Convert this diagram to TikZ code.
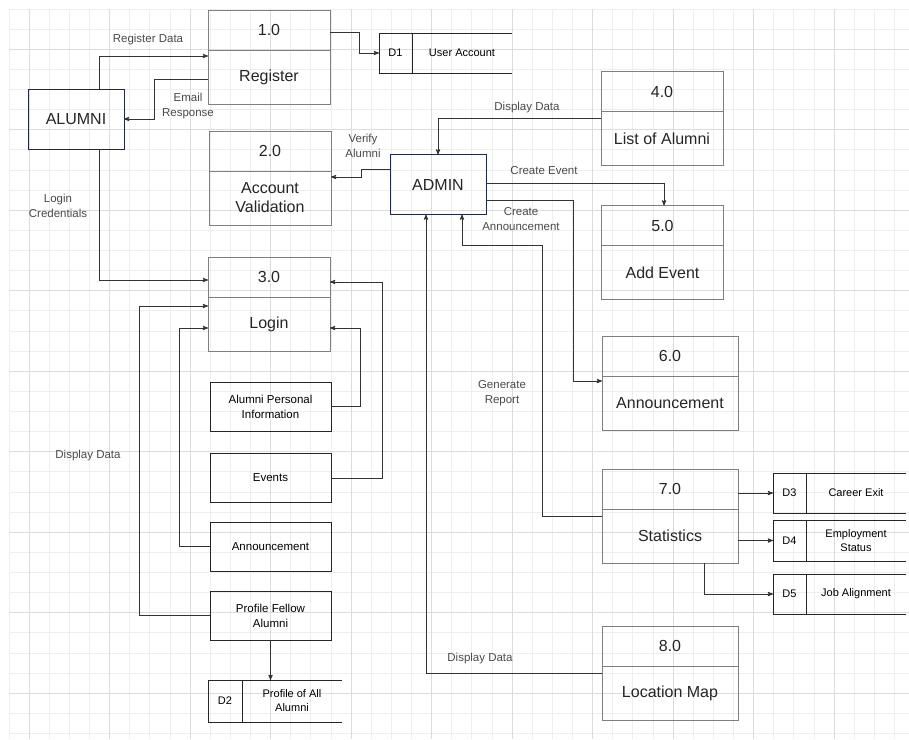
\documentclass[tikz,border=0pt]{standalone}
\usepackage{fontspec}
\setmainfont{Liberation Sans}
\usetikzlibrary{arrows,positioning}

\definecolor{gridminor}{HTML}{EEEEEE}
\definecolor{gridmajor}{HTML}{DCDCDC}
\definecolor{procgray}{HTML}{7F7F7F}
\definecolor{entnavy}{HTML}{1F2847}
\definecolor{flowgray}{HTML}{333333}
\definecolor{labelgray}{HTML}{4A4A4A}

\tikzset{
  numbox/.style={draw=procgray, line width=0.9pt, minimum width=122pt, minimum height=40pt,
    outer sep=0pt, inner sep=0pt, font=\fontsize{16}{19}\selectfont, text=black!85},
  namebox/.style={numbox, minimum height=54pt, align=center},
  wide/.style={minimum width=136pt},
  entity/.style={draw=entnavy, line width=0.9pt, minimum width=96pt, minimum height=60pt,
    outer sep=0pt, font=\fontsize{16}{19}\selectfont, text=black!85},
  infobox/.style={draw=black!85, line width=0.9pt, minimum width=121pt, minimum height=49pt,
    outer sep=0pt, align=center, font=\fontsize{11.5}{15}\selectfont},
  storeid/.style={draw=black!85, line width=0.9pt, minimum width=33pt, minimum height=40pt,
    outer sep=0pt, inner sep=0pt, font=\fontsize{11}{13}\selectfont},
  storetxt/.style={minimum width=100pt, minimum height=40pt, outer sep=0pt, inner sep=0pt,
    align=center, font=\fontsize{11}{14}\selectfont},
  storeline/.style={draw=black!85, line width=0.9pt},
  flowlbl/.style={text=labelgray, align=center, font=\fontsize{11.5}{15}\selectfont},
  flow/.style={->, draw=flowgray, line width=0.9pt},
}

\begin{document}
\begin{tikzpicture}[x=1pt, y=-1pt, >=stealth']
    % Background and grid
    \fill[white] (0,0) rectangle (909,739);
    \useasboundingbox (0,0) rectangle (909,739);
    \foreach \k in {0,...,44}
        \draw[gridminor, line width=0.8pt] (9+20.125*\k, 9) -- (9+20.125*\k, 739);
    \foreach \k in {0,...,36}
        \draw[gridminor, line width=0.8pt] (9, 9+20.125*\k) -- (909, 9+20.125*\k);
    \foreach \k in {1,5,...,41}
        \draw[gridmajor, line width=0.8pt] (9+20.125*\k, 9) -- (9+20.125*\k, 739);
    \foreach \k in {2,6,...,34}
        \draw[gridmajor, line width=0.8pt] (9, 9+20.125*\k) -- (909, 9+20.125*\k);

    % Entities
    \node [entity] (alumni) at (76,119)    {ALUMNI};
    \node [entity] (admin)  at (438,184.5) {ADMIN};

    % Processes {number part, name part}
    \node [numbox]       (n1) at (269,30)        {1.0};
    \node [namebox]      (p1) [below=0pt of n1]  {Register};
    \node [numbox]       (n2) at (270,151)       {2.0};
    \node [namebox]      (p2) [below=0pt of n2]  {Account\\Validation};
    \node [numbox]       (n3) at (269,277)       {3.0};
    \node [namebox]      (p3) [below=0pt of n3]  {Login};
    \node [numbox]       (n4) at (662,91.5)      {4.0};
    \node [namebox]      (p4) [below=0pt of n4]  {List of Alumni};
    \node [numbox]       (n5) at (662.5,225.5)   {5.0};
    \node [namebox]      (p5) [below=0pt of n5]  {Add Event};
    \node [numbox, wide] (n6) at (670,356)       {6.0};
    \node [namebox, wide](p6) [below=0pt of n6]  {Announcement};
    \node [numbox, wide] (n7) at (670,489)       {7.0};
    \node [namebox, wide](p7) [below=0pt of n7]  {Statistics};
    \node [numbox, wide] (n8) at (670,646)       {8.0};
    \node [namebox, wide](p8) [below=0pt of n8]  {Location Map};

    % Alumni modules
    \node [infobox] (api)    at (270.5,406.5) {Alumni Personal\\Information};
    \node [infobox] (events) at (270.5,478)   {Events};
    \node [infobox] (ann)    at (270.5,546.5) {Announcement};
    \node [infobox] (pfa)    at (270.5,615.5) {Profile Fellow\\Alumni};

    % Data stores
    \node [storeid]                   (d1)  at (395.5,53) {D1};
    \node [storetxt, right=0pt of d1] (d1t)               {User Account};
    \node [storeid, minimum width=34pt, minimum height=42pt] (d2) at (225,701) {D2};
    \node [storetxt, minimum height=42pt, right=0pt of d2]   (d2t) {Profile of All\\Alumni};
    \node [storeid]                   (d3)  at (789.5,493) {D3};
    \node [storetxt, right=0pt of d3] (d3t)                {Career Exit};
    \node [storeid, minimum height=41pt] (d4) at (789.5,540.5) {D4};
    \node [storetxt, minimum height=41pt, right=0pt of d4] (d4t) {Employment\\Status};
    \node [storeid]                   (d5)  at (789.5,594) {D5};
    \node [storetxt, right=0pt of d5] (d5t)                {Job Alignment};
    \foreach \d in {d1,d2,d3,d4,d5}
        \draw [storeline] (\d.north west) -- (\d t.north east)
                          (\d.south west) -- (\d t.south east);

    % Paths
    \draw [flow] ([xshift=23pt]alumni.north) |- ([yshift=-6pt]p1.north west);
    \draw [flow] ([yshift=-2pt]p1.west) -- ++(-54,0) |- (alumni.east);
    \draw [flow] ([yshift=-2pt]n1.east) -- ++(29,0) |- (d1.west);
    \draw [flow] ([yshift=15.5pt]admin.west) -- ++(-29,0) |- ([yshift=21pt]p2.east);
    \draw [flow] ([yshift=20.5pt]p4.west) -| (admin.north);
    \draw [flow] ([yshift=1.5pt]admin.east) -| ([xshift=1.5pt]n5.north);
    \draw [flow] ([yshift=-15.5pt]admin.east) -- ++(87,0) |- ([yshift=22pt]p6.west);
    \draw [flow] ([yshift=20pt]p7.west) -- ++(-60,0) -- ++(0,-271) -| ([xshift=24pt]admin.south);
    \draw [flow] ([yshift=20pt]p8.west) -| ([xshift=-12pt]admin.south);
    \draw [flow] ([xshift=23pt]alumni.south) |- ([yshift=-3pt]n3.west);
    \draw [flow] (pfa.west) -- ++(-71,0) |- ([yshift=18pt]p3.west);
    \draw [flow] (ann.west) -- ++(-31,0) |- ([yshift=-4pt]p3.west);
    \draw [flow] (api.east) -- ++(29,0) |- ([yshift=-4pt]p3.east);
    \draw [flow] (events.east) -- ++(51,0) |- ([yshift=-5pt]n3.east);
    \draw [flow] (pfa.south) -- (pfa.south |- d2.north);
    \draw [flow] (d3.west -| n7.east) -- (d3.west);
    \draw [flow] (d4.west -| p7.east) -- (d4.west);
    \draw [flow] ([xshift=34pt]p7.south) |- (d5.west);

    % Flow labels
    \node [flowlbl] (lreg)    at (148,40)    {Register Data};
    \node [flowlbl] (lemail)  at (188,106)   {Email\\Response};
    \node [flowlbl] (lverify) at (363,146)   {Verify\\Alumni};
    \node [flowlbl] (lshow)   at (527,108)   {Display Data};
    \node [flowlbl] (lcevent) at (544,171)   {Create Event};
    \node [flowlbl] (lcann)   at (521,219)   {Create\\Announcement};
    \node [flowlbl] (llogin)  at (58,206)    {Login\\Credentials};
    \node [flowlbl] (lprof)   at (88,456)    {Display Data};
    \node [flowlbl] (lreport) at (502,393)   {Generate\\Report};
    \node [flowlbl] (lmap)    at (480,659)   {Display Data};
\end{tikzpicture}
\end{document}
